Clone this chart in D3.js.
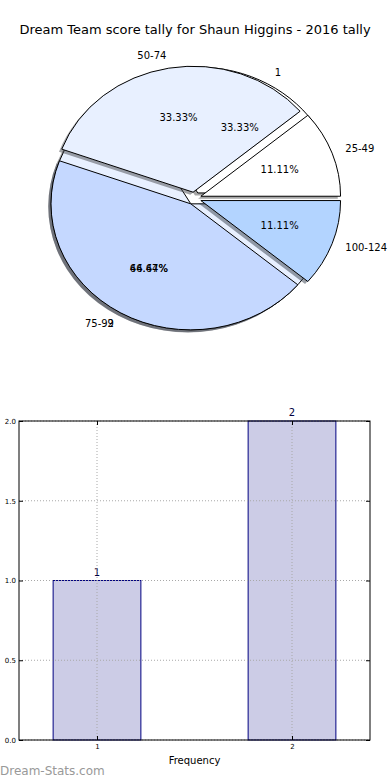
<!DOCTYPE html>
<html>
<head>
<meta charset="utf-8">
<script src="https://cdn.jsdelivr.net/npm/d3@7"></script>
<style>
  body { margin: 0; background: #fff; }
  svg { display: block; font-family: "DejaVu Sans", sans-serif; }
</style>
</head>
<body>
<div id="canvas"></div>
<script>
// score ranges pie
const rangeLabels = ["25-49", "50-74", "75-99", "100-124"];
const rangeCounts = [1, 3, 4, 1];
const rangeColors = ["#ffffff", "#e8f0ff", "#c5d8ff", "#b3d4ff"];

// frequency pie (drawn underneath)
const freqLabels = ["1", "2"];
const freqValues = [1, 2];
const freqColors = ["#ffffff", "#e8f0ff"];

// bar chart
const barCats = [1, 2];
const barValues = [1, 2];
const yTicks = [0, 0.5, 1, 1.5, 2];

const W = 390, H = 780;
const svg = d3.select("#canvas").append("svg")
    .attr("width", W).attr("height", H);

svg.append("text")
    .attr("x", 195).attr("y", 30)
    .attr("text-anchor", "middle").attr("dominant-baseline", "middle")
    .style("font-size", "13px")
    .text("Dream Team score tally for Shaun Higgins - 2016 tally");

// ---- pie ----
const px = d3.scaleLinear().domain([-1, 1]).range([54.6, 334]);
const py = d3.scaleLinear().domain([-1, 1]).range([324.3, 72.5]);
const cx = px(0), cy = py(0);
const rx = px(1) - cx, ry = cy - py(1);

const explode = 0.05;
const pie = d3.pie().sort(null)
    .startAngle(Math.PI / 2).endAngle(Math.PI / 2 - 2 * Math.PI);
const arc = d3.arc().innerRadius(0).outerRadius(1);

const pieG = svg.append("g")
    .attr("transform", `translate(${cx},${cy}) scale(${rx},${ry})`);
const textG = svg.append("g");

function darker(c) {
    const k = d3.rgb(c);
    return d3.rgb(k.r * 0.3, k.g * 0.3, k.b * 0.3).toString();
}

function drawPie(values, labels, colors) {
    const arcs = pie(values);
    const total = d3.sum(values);
    arcs.forEach((a, i) => {
        const mid = (a.startAngle + a.endAngle) / 2;
        const dx = Math.sin(mid), dy = -Math.cos(mid);
        const ox = explode * dx, oy = explode * dy;
        // shadow
        pieG.append("path")
            .attr("d", arc(a))
            .attr("transform", `translate(${ox - 0.02},${oy + 0.02})`)
            .attr("fill", darker(colors[i]))
            .attr("fill-opacity", 0.5);
        pieG.append("path")
            .attr("d", arc(a))
            .attr("transform", `translate(${ox},${oy})`)
            .attr("fill", colors[i])
            .attr("stroke", "#000")
            .attr("stroke-width", 1)
            .attr("vector-effect", "non-scaling-stroke");

        const lx = ox + 1.1 * dx, ly = oy + 1.1 * dy;
        textG.append("text")
            .attr("x", px(lx)).attr("y", py(-ly))
            .attr("text-anchor", lx > 0 ? "start" : "end")
            .attr("dominant-baseline", "middle")
            .style("font-size", "10px")
            .text(labels[i]);
        const tx = ox + 0.6 * dx, ty = oy + 0.6 * dy;
        textG.append("text")
            .attr("x", px(tx)).attr("y", py(-ty))
            .attr("text-anchor", "middle")
            .attr("dominant-baseline", "middle")
            .style("font-size", "10px")
            .text((values[i] / total * 100).toFixed(2) + "%");
    });
}

drawPie(freqValues, freqLabels, freqColors);
drawPie(rangeCounts, rangeLabels, rangeColors);
textG.raise();

// ---- bar chart ----
const x = d3.scaleLinear().domain([0.6, 2.4]).range([19, 370]);
const y = d3.scaleLinear().domain([0, 2]).range([740, 421]);
const barW = 0.45;

const bars = svg.append("g");
bars.selectAll("rect").data(barValues).join("rect")
    .attr("x", (d, i) => x(barCats[i] - barW / 2))
    .attr("y", d => y(d))
    .attr("width", x(barW) - x(0))
    .attr("height", d => y(0) - y(d))
    .attr("fill", "#ccccE6")
    .attr("stroke", "#000080")
    .attr("stroke-width", 1);

bars.selectAll("text.val").data(barValues).join("text")
    .attr("class", "val")
    .attr("x", (d, i) => x(barCats[i]))
    .attr("y", d => y(d) - 5)
    .attr("text-anchor", "middle")
    .style("font-size", "10px")
    .attr("fill", "#000040")
    .text(d => d);

// grid on top of bars
const grid = svg.append("g")
    .attr("stroke", "#a8a8a8").attr("stroke-dasharray", "1,2").attr("stroke-width", 1);
grid.selectAll("line.gy").data(yTicks).join("line")
    .attr("x1", x(0.6)).attr("x2", x(2.4))
    .attr("y1", d => y(d)).attr("y2", d => y(d));
grid.selectAll("line.gx").data(barCats).join("line")
    .attr("class", "gx")
    .attr("x1", d => x(d)).attr("x2", d => x(d))
    .attr("y1", y(0)).attr("y2", y(2));

const yAxisL = d3.axisLeft(y).tickValues(yTicks).tickFormat(d3.format(".1f")).tickSizeInner(-4).tickSizeOuter(0).tickPadding(3);
const yAxisR = d3.axisRight(y).tickValues(yTicks).tickFormat("").tickSizeInner(-4).tickSizeOuter(0);
const xAxisB = d3.axisBottom(x).tickValues(barCats).tickFormat(d3.format("d")).tickSizeInner(-4).tickSizeOuter(0).tickPadding(4);
const xAxisT = d3.axisTop(x).tickValues(barCats).tickFormat("").tickSizeInner(-4).tickSizeOuter(0);

[[yAxisL, `translate(${x(0.6)},0)`], [yAxisR, `translate(${x(2.4)},0)`],
 [xAxisB, `translate(0,${y(0)})`], [xAxisT, `translate(0,${y(2)})`]].forEach(([ax, t]) => {
    const g = svg.append("g").attr("transform", t).call(ax);
    g.select(".domain").remove();
    g.selectAll("line").attr("stroke", "#000");
    g.selectAll("text").style("font-size", "7px").style("font-family", "DejaVu Sans").attr("fill", "#000");
});

svg.append("rect")
    .attr("x", x(0.6)).attr("y", y(2))
    .attr("width", x(2.4) - x(0.6)).attr("height", y(0) - y(2))
    .attr("fill", "none").attr("stroke", "#000").attr("stroke-width", 1);

svg.append("text")
    .attr("x", x(1.5)).attr("y", 764)
    .attr("text-anchor", "middle")
    .style("font-size", "10px")
    .text("Frequency");

svg.append("text")
    .attr("x", 0).attr("y", 775)
    .style("font-size", "12px")
    .attr("fill", "#999999")
    .text("Dream-Stats.com");
</script>
</body>
</html>
